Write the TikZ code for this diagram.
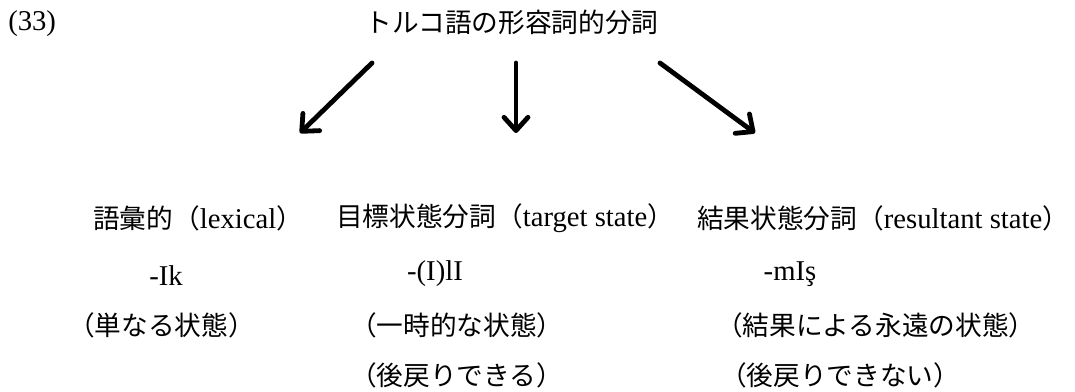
\documentclass[tikz,border=0pt]{standalone}
\usepackage{fontspec}
\setmainfont{Liberation Serif}
\newfontfamily\jp{Noto Sans CJK JP}
\newcommand{\J}[1]{{\fontsize{20pt}{24pt}\jp #1}}
\usetikzlibrary{arrows.meta}
\begin{document}
\begin{tikzpicture}[x=0.75pt,y=-0.75pt,
  txt/.style={inner sep=0pt,font=\fontsize{21.5pt}{24pt}\selectfont},
  bigarrow/.style={line width=3.6pt,line cap=round,
    -{Straight Barb[length=10pt,width=18pt,line cap=round,line join=round]}}]
\useasboundingbox (0,0) rectangle (1075,392);
\node[txt,anchor=west] (num) at (8,24) {(33)};
\node[txt] (title) at (512,22) {\J{トルコ語の形容詞的分詞}};
\coordinate (a1s) at (372,63); \coordinate (a1e) at (300,133);
\coordinate (a2s) at (516,63); \coordinate (a2e) at (516,133);
\coordinate (a3s) at (660,63); \coordinate (a3e) at (755,133);
\draw[bigarrow] (a1s) -- (a1e);
\draw[bigarrow] (a2s) -- (a2e);
\draw[bigarrow] (a3s) -- (a3e);
% row 1
\node[txt,anchor=west] (lex) at (93,218) {\J{語彙的（}lexical\J{）}};
\node[txt,anchor=west] (tgt) at (336,218) {\J{目標状態分詞（}target state\J{）}};
\node[txt,anchor=west] (res) at (697,218) {\J{結果状態分詞（}resultant state\J{）}};
% row 2
\node[txt] (sfx1) at (166,276) {-Ik};
\node[txt] (sfx2) at (435,274) {-(I)lI};
\node[txt] (sfx3) at (790,274) {-mIş};
% row 3
\node[txt,anchor=west] (m1) at (68,325) {\J{（単なる状態）}};
\node[txt,anchor=west] (m2) at (350,325) {\J{（一時的な状態）}};
\node[txt,anchor=west] (m3) at (716,325) {\J{（結果による永遠の状態）}};
% row 4
\node[txt,anchor=west] (r2) at (350,375) {\J{（後戻りできる）}};
\node[txt,anchor=west] (r3) at (720,375) {\J{（後戻りできない）}};
\end{tikzpicture}
\end{document}
